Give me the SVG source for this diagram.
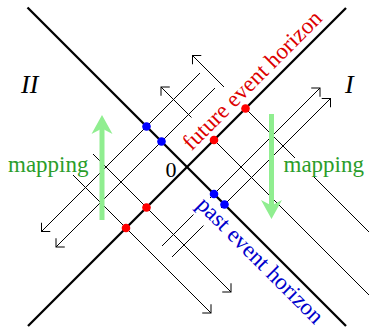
<svg xmlns="http://www.w3.org/2000/svg" width="369" height="328" viewBox="0 0 369 328">
<style>
.axis{stroke:#000;stroke-width:2.3;fill:none}
.ray{stroke:#000;stroke-width:1;fill:none}
.arr{marker-end:url(#ah)}
.rd{fill:#ff0000}
.bd{fill:#0000ff}
.t{font-family:"Liberation Serif","Times New Roman",serif;font-size:23px}
.g{fill:#2a9d2a}
.map{fill:#90ee90}
</style>
<defs>
<marker id="ah" markerUnits="userSpaceOnUse" markerWidth="20" markerHeight="20" viewBox="-10 -10 20 20" refX="0" refY="0" orient="auto" overflow="visible">
<path d="M-6.2,-6.2 L0,0 L-6.2,6.2" fill="none" stroke="#000" stroke-width="1"/>
</marker>
</defs>
<rect width="369" height="328" fill="#fff"/>
<g id="horizons">
<line class="axis" x1="27.5" y1="7.5" x2="346" y2="326"/>
<line class="axis" x1="346" y1="8" x2="28" y2="326"/>
</g>
<g id="connectors">
<line class="ray arr" x1="200" y1="73" x2="41.5" y2="231.5"/>
<line class="ray arr" x1="215" y1="88" x2="56" y2="247"/>
<line class="ray" x1="162" y1="246" x2="193.5" y2="214.5"/>
<line class="ray arr" x1="210" y1="198" x2="320" y2="88"/>
<line class="ray" x1="172" y1="257" x2="203.5" y2="225.5"/>
<line class="ray arr" x1="221" y1="208" x2="330.5" y2="98.5"/>
<line class="ray arr" x1="224" y1="87" x2="192.5" y2="55.5"/>
<line class="ray" x1="245.5" y1="108.5" x2="295" y2="158"/>
<line class="ray" x1="313" y1="176" x2="369" y2="232"/>
<line class="ray arr" x1="191.5" y1="117.5" x2="161" y2="87"/>
<line class="ray" x1="214" y1="140" x2="369" y2="295"/>
<line class="ray arr" x1="93" y1="154" x2="231" y2="292"/>
<line class="ray arr" x1="73" y1="175" x2="211" y2="313"/>
</g>
<g id="mapping-arrows">
<g id="map-up">
<rect class="map" x="99.5" y="128" width="5" height="92"/>
<polygon class="map" points="102,115 112.5,134 102,128.5 91.5,134"/>
</g>
<g id="map-down">
<rect class="map" x="269" y="114" width="5" height="92"/>
<polygon class="map" points="271.5,219 282,200 271.5,205.5 261,200"/>
</g>
</g>
<g id="points">
<circle class="bd" cx="146.5" cy="126.5" r="4.3"/>
<circle class="bd" cx="161.5" cy="141.5" r="4.3"/>
<circle class="bd" cx="214" cy="194" r="4.3"/>
<circle class="bd" cx="224.5" cy="204.5" r="4.3"/>
<circle class="rd" cx="245.5" cy="108.5" r="4.3"/>
<circle class="rd" cx="214" cy="140" r="4.3"/>
<circle class="rd" cx="146.5" cy="207.5" r="4.3"/>
<circle class="rd" cx="126" cy="228" r="4.3"/>
</g>
<g id="labels">
<text class="t" x="21" y="93" style="font-size:26px;font-style:italic">II</text>
<text class="t" x="345" y="93" style="font-size:26px;font-style:italic">I</text>
<text class="t" x="171" y="177" text-anchor="middle" style="font-size:22px">0</text>
<text class="t g" x="8" y="172">mapping</text>
<text class="t g" x="283.5" y="172">mapping</text>
<text class="t" fill="#dd0000" text-anchor="middle" transform="translate(257.5,85.5) rotate(-45)">future event horizon</text>
<text class="t" fill="#0000cc" text-anchor="middle" transform="translate(255,265.5) rotate(45)">past event horizon</text>
</g>
</svg>
